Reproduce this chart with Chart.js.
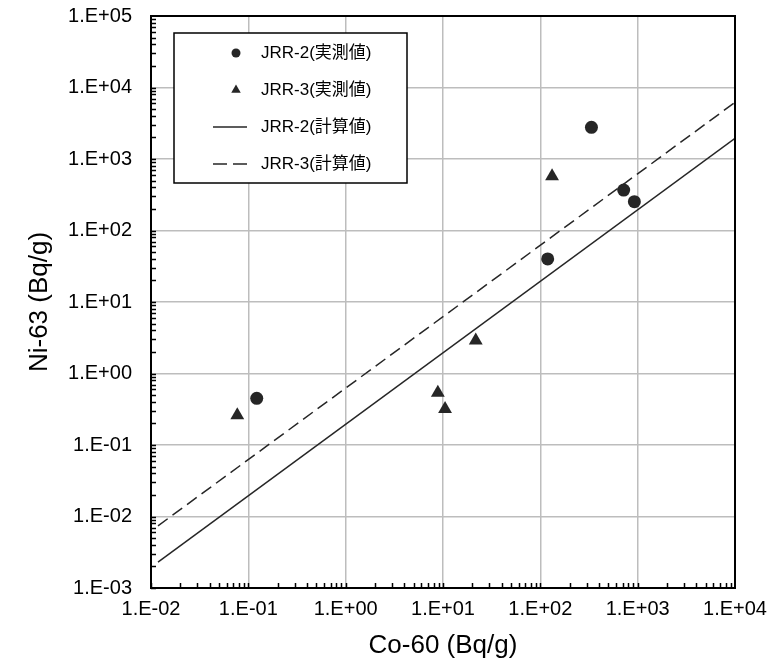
<!DOCTYPE html>
<html lang="ja">
<head>
<meta charset="UTF-8" />
<title>Co-60 と Ni-63 の相関</title>
<script src="https://cdn.jsdelivr.net/npm/chart.js"></script>
<style>
  html, body { margin: 0; padding: 0; background: #fff; }
  canvas { display: block; }
</style>
</head>
<body>
<canvas id="chart" width="773" height="671"></canvas>
<script>
  // 実測値 (Bq/g)
  const jrr2X = [0.122, 119, 335, 718, 925];
  const jrr2Y = [0.45, 40, 2770, 368, 253];
  const jrr3X = [0.077, 8.85, 10.5, 21.7, 132];
  const jrr3Y = [0.26, 0.54, 0.32, 2.9, 573];

  // 計算値 (線の両端)
  const calcX = [0.0118, 10000];
  const jrr2Calc = [0.0023, 1950];
  const jrr3Calc = [0.0074, 6200];

  const xTicks = [1e-2, 1e-1, 1e0, 1e1, 1e2, 1e3, 1e4];
  const yTicks = [1e-3, 1e-2, 1e-1, 1e0, 1e1, 1e2, 1e3, 1e4, 1e5];

  const FONT = "'Liberation Sans', 'Noto Sans CJK JP', Arial, sans-serif";
  const INK = '#262626';

  const fmt = v => {
    const e = Math.round(Math.log10(v));
    return '1.E' + (e < 0 ? '-' : '+') + String(Math.abs(e)).padStart(2, '0');
  };
  const pts = (xs, ys) => xs.map((x, i) => ({ x: x, y: ys[i] }));

  // 目盛り（内向きの補助目盛り）と外枠、凡例
  const frameAndLegend = {
    id: 'frameAndLegend',
    afterDraw(chart) {
      const { ctx, chartArea: a, scales: { x, y } } = chart;
      ctx.save();
      ctx.strokeStyle = '#000';
      ctx.lineWidth = 1.5;
      ctx.beginPath();
      for (let i = 0; i < xTicks.length - 1; i++) {
        for (let m = 1; m <= 9; m++) {
          const px = Math.round(x.getPixelForValue(m * xTicks[i])) + 0.5;
          ctx.moveTo(px, a.bottom);
          ctx.lineTo(px, a.bottom - 5);
        }
      }
      for (let i = 0; i < yTicks.length - 1; i++) {
        for (let m = 1; m <= 9; m++) {
          const py = Math.round(y.getPixelForValue(m * yTicks[i])) + 0.5;
          ctx.moveTo(a.left, py);
          ctx.lineTo(a.left + 5, py);
        }
      }
      ctx.stroke();

      ctx.lineWidth = 2;
      ctx.strokeRect(a.left, a.top, a.right - a.left, a.bottom - a.top);

      // 凡例
      const bx = a.left + 23, by = a.top + 17, bw = 233, bh = 150;
      ctx.fillStyle = '#fff';
      ctx.fillRect(bx, by, bw, bh);
      ctx.lineWidth = 1.5;
      ctx.strokeStyle = '#000';
      ctx.strokeRect(bx, by, bw, bh);

      ctx.font = '17px ' + FONT;
      ctx.textBaseline = 'middle';
      ctx.textAlign = 'left';
      chart.data.datasets.forEach((ds, i) => {
        const ry = by + 20 + i * 37;
        const mx = bx + 62;
        ctx.fillStyle = INK;
        ctx.strokeStyle = INK;
        if (ds.showLine) {
          ctx.lineWidth = 1.5;
          ctx.setLineDash(ds.borderDash ? [14, 6] : []);
          ctx.beginPath();
          ctx.moveTo(mx - 23, ry);
          ctx.lineTo(mx + 11, ry);
          ctx.stroke();
          ctx.setLineDash([]);
        } else {
          Chart.helpers.drawPoint(ctx, {
            pointStyle: ds.pointStyle,
            radius: ds.pointStyle === 'triangle' ? 5.5 : 4.5,
            rotation: 0,
            borderWidth: 0
          }, mx, ry);
        }
        ctx.fillStyle = '#000';
        ctx.fillText(ds.label, bx + 87, ry);
      });
      ctx.restore();
    }
  };

  new Chart(document.getElementById('chart'), {
    type: 'scatter',
    data: {
      datasets: [
        {
          label: 'JRR-2(実測値)',
          data: pts(jrr2X, jrr2Y),
          pointStyle: 'circle',
          pointRadius: 6.5,
          pointBorderWidth: 0,
          backgroundColor: INK,
          borderColor: INK
        },
        {
          label: 'JRR-3(実測値)',
          data: pts(jrr3X, jrr3Y),
          pointStyle: 'triangle',
          pointRadius: 8,
          pointBorderWidth: 0,
          backgroundColor: INK,
          borderColor: INK
        },
        {
          label: 'JRR-2(計算値)',
          data: pts(calcX, jrr2Calc),
          showLine: true,
          pointRadius: 0,
          borderColor: INK,
          borderWidth: 1.5
        },
        {
          label: 'JRR-3(計算値)',
          data: pts(calcX, jrr3Calc),
          showLine: true,
          pointRadius: 0,
          borderColor: INK,
          borderWidth: 1.5,
          borderDash: [12, 6]
        }
      ]
    },
    options: {
      responsive: false,
      animation: false,
      layout: { padding: { left: 0, top: 16, right: 38, bottom: 0 } },
      plugins: { legend: { display: false }, tooltip: { enabled: false } },
      scales: {
        x: {
          type: 'logarithmic',
          min: 1e-2,
          max: 1e4,
          afterBuildTicks: s => { s.ticks = xTicks.map(v => ({ value: v })); },
          afterFit: s => { s.height = 83; s.paddingLeft = 0; s.paddingRight = 0; },
          grid: { color: '#bdbdbd', lineWidth: 1.5, drawTicks: false },
          border: { display: true, color: '#000', width: 2 },
          ticks: {
            autoSkip: false,
            maxRotation: 0,
            padding: 9,
            color: '#000',
            font: { family: FONT, size: 20 },
            callback: v => fmt(v)
          },
          title: {
            display: true,
            text: 'Co-60 (Bq/g)',
            color: '#000',
            font: { family: FONT, size: 26 },
            padding: { top: 0, bottom: 10 }
          }
        },
        y: {
          type: 'logarithmic',
          min: 1e-3,
          max: 1e5,
          afterBuildTicks: s => { s.ticks = yTicks.map(v => ({ value: v })); },
          afterFit: s => { s.width = 151; s.paddingTop = 0; s.paddingBottom = 0; },
          grid: { color: '#bdbdbd', lineWidth: 1.5, drawTicks: false },
          border: { display: true, color: '#000', width: 2 },
          ticks: {
            autoSkip: false,
            padding: 19,
            color: '#000',
            font: { family: FONT, size: 20 },
            callback: v => fmt(v)
          },
          title: {
            display: true,
            text: 'Ni-63 (Bq/g)',
            color: '#000',
            font: { family: FONT, size: 26 },
            padding: { top: 24, bottom: 0 }
          }
        }
      }
    },
    plugins: [frameAndLegend]
  });
</script>
</body>
</html>
